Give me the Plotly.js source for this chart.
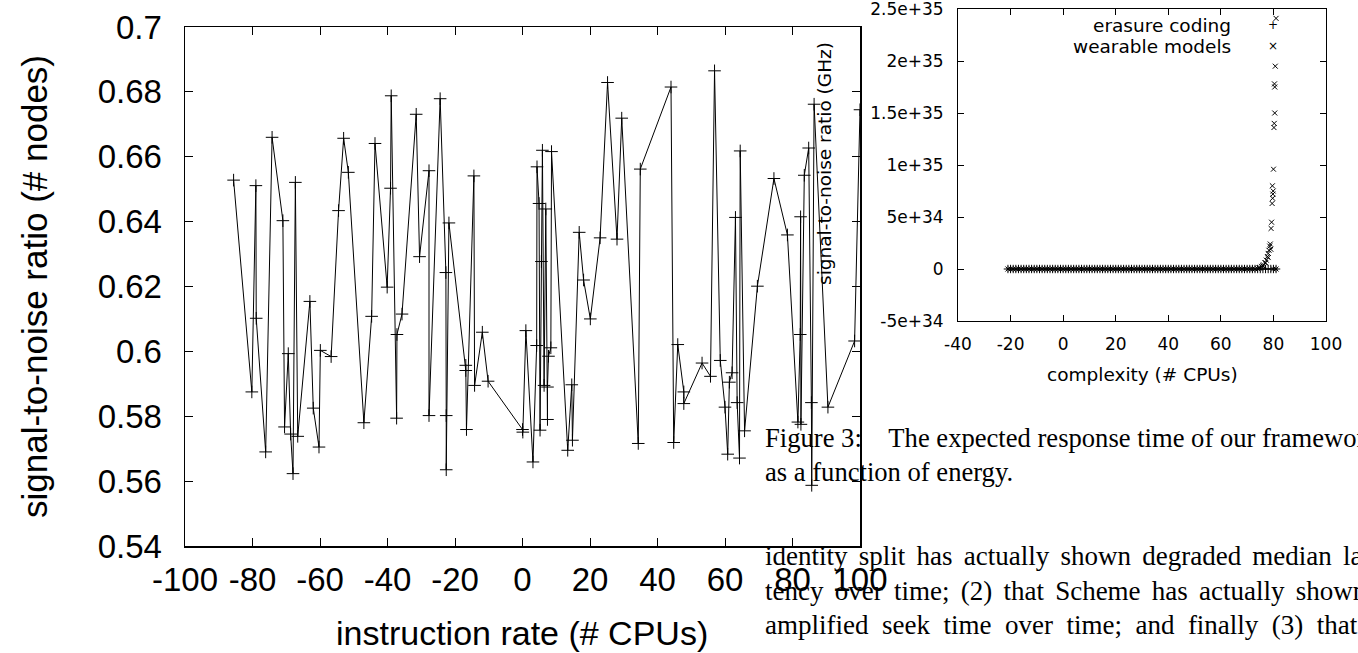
<!DOCTYPE html>
<html>
<head>
<meta charset="utf-8">
<script src="https://cdn.plot.ly/plotly-3.0.1.min.js"></script>
<style>
html,body{margin:0;padding:0;background:#fff;overflow:hidden;}
#chart{width:1358px;height:653px;}
</style>
</head>
<body>
<div id="chart"></div>
<script>
// ---- main chart data: instruction rate (# CPUs) vs signal-to-noise ratio (# nodes)
const mainX = [-85.6,-80.2,-79.0,-78.9,-76.1,-74.2,-71.0,-70.5,-69.4,-68.7,-68.0,-67.3,-66.6,-63.0,-62.0,-60.3,-59.9,-56.7,-54.5,-53.0,-51.6,-47.0,-44.7,-43.7,-40.1,-39.1,-38.9,-37.3,-37.2,-35.7,-31.5,-30.5,-27.7,-27.7,-24.4,-22.7,-22.6,-22.6,-21.8,-16.8,-16.8,-16.6,-14.4,-14.2,-11.9,-10.2,0.0,0.1,1.0,3.1,4.2,4.3,4.9,5.2,5.6,5.9,6.4,6.9,7.4,7.4,7.7,8.4,8.6,13.4,14.6,14.8,16.8,18.1,20.1,23.0,25.2,28.0,29.4,34.3,34.9,44.0,44.8,46.0,47.8,47.8,53.2,55.7,56.9,58.6,60.0,60.8,61.3,62.1,63.1,63.6,64.3,64.5,65.8,69.6,74.5,78.5,81.6,82.3,82.4,82.5,83.5,84.8,85.6,85.7,86.4,90.5,98.4,100.0];
const mainY = [0.6528,0.5875,0.6511,0.6102,0.5690,0.6660,0.6403,0.5767,0.5993,0.5745,0.5623,0.6521,0.5738,0.6154,0.5825,0.5705,0.6003,0.5984,0.6434,0.6657,0.6552,0.5780,0.6108,0.6641,0.6198,0.6503,0.6788,0.5794,0.6052,0.6115,0.6731,0.6292,0.6557,0.5802,0.6779,0.6243,0.5802,0.5635,0.6396,0.5957,0.5941,0.5759,0.6541,0.5895,0.6059,0.5908,0.5759,0.5751,0.6064,0.5659,0.6018,0.6569,0.6456,0.5757,0.6277,0.6620,0.5895,0.6439,0.5790,0.5890,0.5985,0.6011,0.6616,0.5695,0.5897,0.5726,0.6367,0.6220,0.6100,0.6350,0.6829,0.6346,0.6719,0.5716,0.6562,0.6815,0.5719,0.6021,0.5875,0.5839,0.5964,0.5923,0.6865,0.5972,0.5828,0.5683,0.5905,0.5934,0.6413,0.5842,0.5671,0.6618,0.5755,0.6201,0.6533,0.6359,0.5782,0.6052,0.6415,0.5775,0.6543,0.6627,0.5842,0.5587,0.6762,0.5828,0.6032,0.6745];
const mainXTicks = [-100,-80,-60,-40,-20,0,20,40,60,80,100];
const mainXLabels = ['-100','-80','-60','-40','-20','0','20','40','60','80','100'];
const mainYTicks = [0.54,0.56,0.58,0.6,0.62,0.64,0.66,0.68,0.7];
const mainYLabels = ['0.54','0.56','0.58','0.6','0.62','0.64','0.66','0.68','0.7'];

// ---- inset data: complexity (# CPUs)
const bandX = [-21,-20,-19,-18,-17,-16,-15,-14,-13,-12,-11,-10,-9,-8,-7,-6,-5,-4,-3,-2,-1,0,1,2,3,4,5,6,7,8,9,10,11,12,13,14,15,16,17,18,19,20,21,22,23,24,25,26,27,28,29,30,31,32,33,34,35,36,37,38,39,40,41,42,43,44,45,46,47,48,49,50,51,52,53,54,55,56,57,58,59,60,61,62,63,64,65,66,67,68,69,70,71,72,73,74,75,76,77,78,79,80,81];
const erasureY = [0,0,0,0,0,0,0,0,0,0,0,0,0,0,0,0,0,0,0,0,0,0,0,0,0,0,0,0,0,0,0,0,0,0,0,0,0,0,0,0,0,0,0,0,0,0,0,0,0,0,0,0,0,0,0,0,0,0,0,0,0,0,0,0,0,0,0,0,0,0,0,0,0,0,0,0,0,0,0,0,0,0,0,0,0,0,0,0,0,0,0,0,0,0,0,0,0,0,0,0,0,0,0];
const wearableBandY = [0,0,0,0,0,0,0,0,0,0,0,0,0,0,0,0,0,0,0,0,0,0,0,0,0,0,0,0,0,0,0,0,0,0,0,0,0,0,0,0,0,0,0,0,0,0,0,0,0,0,0,0,0,0,0,0,0,0,0,0,0,0,0,0,0,0,0,0,0,0,0,0,0,0,0,0,0,0,0,0,0,0,0,0,0,0,0,0,0,0,0,0,0,0,0,2e32,1e33,3e33,6e33,1.1e34,1.9e34,0,0];
const spikeX = [74.5,75.5,76.2,76.8,77.3,77.7,78.0,78.3,78.6,78.8,79.1,79.3,79.5,79.6,79.7,79.8,79.9,80.0,80.2,80.3,80.5,80.5,80.4,80.7,81.0];
const spikeY = [1e33,2.5e33,4e33,6e33,8.5e33,1.2e34,1.5e34,1.8e34,2.2e34,2.4e34,3.9e34,4.5e34,6.3e34,8.0e34,6.8e34,7.2e34,7.5e34,9.6e34,1.36e35,1.40e35,1.50e35,1.75e35,1.78e35,1.95e35,2.41e35];
const insetXTicks = [-40,-20,0,20,40,60,80,100];
const insetXLabels = ['-40','-20','0','20','40','60','80','100'];
const insetYTicks = [-5e34,0,5e34,1e35,1.5e35,2e35,2.5e35];
const insetYLabels = ['-5e+34','0','5e+34','1e+35','1.5e+35','2e+35','2.5e+35'];
const seriesNames = ['erasure coding','wearable models'];

const W = 1358, H = 653;
const px = v => v / W;
const py = v => 1 - v / H;

const sans = 'Liberation Sans, Arial, Helvetica, sans-serif';
const dj = 'DejaVu Sans, sans-serif';
const serif = 'Liberation Serif, Times New Roman, serif';

const traces = [
  {x: mainX, y: mainY, xaxis: 'x', yaxis: 'y', type: 'scatter', mode: 'lines+markers',
   line: {color: '#000', width: 1},
   marker: {symbol: 'cross-thin-open', size: 9, color: '#000', line: {color: '#000', width: 1}},
   showlegend: false, hoverinfo: 'skip'},
  {x: bandX, y: erasureY, xaxis: 'x2', yaxis: 'y2', type: 'scatter', mode: 'markers',
   name: seriesNames[0],
   marker: {symbol: 'cross-thin-open', size: 6, color: '#000', line: {color: '#000', width: 1}},
   showlegend: false, hoverinfo: 'skip'},
  {x: bandX.concat(spikeX), y: wearableBandY.concat(spikeY), xaxis: 'x2', yaxis: 'y2', type: 'scatter', mode: 'markers',
   name: seriesNames[1],
   marker: {symbol: 'x-thin-open', size: 5, color: '#000', line: {color: '#000', width: 1}},
   showlegend: false, hoverinfo: 'skip'}
];

const ann = [];
function txt(t, x, y, size, font, opts) {
  ann.push(Object.assign({text: t, xref: 'paper', yref: 'paper', x: px(x), y: py(y),
    showarrow: false, font: {family: font, size: size, color: '#000'},
    xanchor: 'center', yanchor: 'middle'}, opts || {}));
}
// main axis titles
txt('instruction rate (# CPUs)', 522, 633, 34, sans);
txt('signal-to-noise ratio (# nodes)', 34, 287, 35, sans, {textangle: -90});
// inset titles
txt('complexity (# CPUs)', 1142, 374, 18.5, dj);
txt('signal-to-noise ratio (GHz)', 824, 163, 18.5, dj, {textangle: -90});
// inset key
txt(seriesNames[0], 1233, 26, 18.5, dj, {xanchor: 'right'});
txt(seriesNames[1], 1233, 46, 18.5, dj, {xanchor: 'right'});
txt('+', 1273, 25, 12, dj);
txt('\u00d7', 1273, 46, 12, dj);
// caption and body text
const S1 = ' \u2006', S2 = ' \u2006', S3 = '\u00a0\u2005';
txt('Figure 3:\u00a0\u00a0\u00a0\u2005The expected response time of our framework', 763, 438, 26.6, serif, {xanchor: 'left'});
txt('as a function of energy.', 763, 472, 26.6, serif, {xanchor: 'left'});
txt(['identity','split','has','actually','shown','degraded','median','la-'].join(S1), 763, 556, 27, serif, {xanchor: 'left'});
txt(['tency','over','time;','(2)','that','Scheme','has','actually','shown'].join(S2), 763, 591, 27, serif, {xanchor: 'left'});
txt(['amplified','seek','time','over','time;','and','finally','(3)','that'].join(S3), 763, 625, 27, serif, {xanchor: 'left'});

const axBase = {ticks: 'inside', tickwidth: 1, tickcolor: '#000', mirror: 'ticks',
  showline: true, linecolor: '#000', showgrid: false, zeroline: false, ticklabeloverflow: 'allow'};

const layout = {
  width: W, height: H,
  margin: {l: 0, r: 0, t: 0, b: 0},
  paper_bgcolor: '#fff', plot_bgcolor: 'rgba(0,0,0,0)',
  showlegend: false,
  xaxis: Object.assign({}, axBase, {domain: [px(185), px(860)], range: [-100.001, 100.001],
    tickvals: mainXTicks, ticktext: mainXLabels, ticklen: 8, linewidth: 1.5,
    tickfont: {family: sans, size: 33, color: '#000'}, ticklabelstandoff: 4, anchor: 'y'}),
  yaxis: Object.assign({}, axBase, {domain: [py(546), py(27)], range: [0.53999, 0.70001],
    tickvals: mainYTicks, ticktext: mainYLabels, ticklen: 8, linewidth: 1.5,
    tickfont: {family: sans, size: 33, color: '#000'}, ticklabelstandoff: 15, anchor: 'x'}),
  xaxis2: Object.assign({}, axBase, {domain: [px(958), px(1326)], range: [-40.001, 100.001],
    tickvals: insetXTicks, ticktext: insetXLabels, ticklen: 6, linewidth: 1,
    tickfont: {family: dj, size: 17, color: '#000'}, ticklabelstandoff: 8, anchor: 'y2'}),
  yaxis2: Object.assign({}, axBase, {domain: [py(321), py(9)], range: [-5.0001e34, 2.50001e35],
    tickvals: insetYTicks, ticktext: insetYLabels, ticklen: 6, linewidth: 1,
    tickfont: {family: dj, size: 17, color: '#000'}, ticklabelstandoff: 10, anchor: 'x2'}),
  annotations: ann
};

Plotly.newPlot('chart', traces, layout, {staticPlot: true, displayModeBar: false});
</script>
</body>
</html>
